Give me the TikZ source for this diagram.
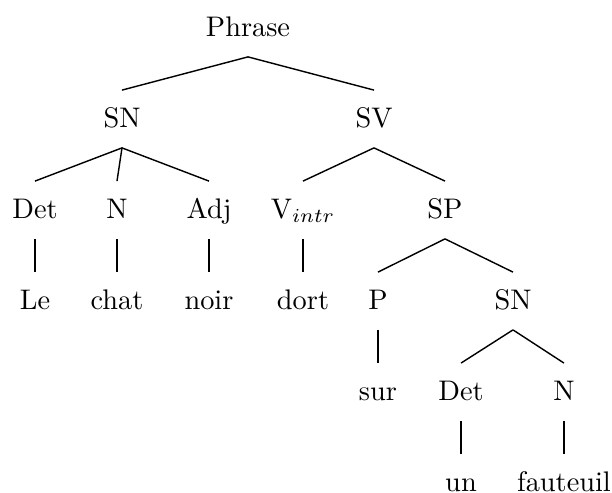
\documentclass[tikz,border=0pt]{standalone}
\tikzset{
    word/.style={inner sep=0pt, text height=1.6ex, text depth=.25ex,
                 minimum height=20pt},
    branch/.style={line width=0.5pt},
}
\begin{document}
\begin{tikzpicture}[x=0.0124cm, y=-0.0124cm]

    \useasboundingbox (0,0) rectangle (612,493);
    \node[word] (phrase) at (248,28) {Phrase};
    \node[word] (sn) at (122,119) {SN};
    \node[word] (sv) at (374,119) {SV};
    \node[word] (det) at (35,210) {Det};
    \node[word] (n) at (117,210) {N};
    \node[word] (adj) at (209,210) {Adj};
    \node[word] (vintr) at (303,210) {V$_{intr}$};
    \node[word] (sp) at (445,210) {SP};
    \node[word] (le) at (35,301) {Le};
    \node[word] (chat) at (117,301) {chat};
    \node[word] (noir) at (209,301) {noir};
    \node[word] (dort) at (303,301) {dort};
    \node[word] (p) at (378,301) {P};
    \node[word] (snsp) at (513,301) {SN};
    \node[word] (sur) at (378,392) {sur};
    \node[word] (detsp) at (461,392) {Det};
    \node[word] (nsp) at (564,392) {N};
    \node[word] (un) at (461,483) {un};
    \node[word] (fauteuil) at (564,483) {fauteuil};
    \draw[branch] (phrase.south) -- (sn.north);
    \draw[branch] (phrase.south) -- (sv.north);
    \draw[branch] (sn.south) -- (det.north);
    \draw[branch] (sn.south) -- (n.north);
    \draw[branch] (sn.south) -- (adj.north);
    \draw[branch] (sv.south) -- (vintr.north);
    \draw[branch] (sv.south) -- (sp.north);
    \draw[branch] (det.south) -- (le.north);
    \draw[branch] (n.south) -- (chat.north);
    \draw[branch] (adj.south) -- (noir.north);
    \draw[branch] (vintr.south) -- (dort.north);
    \draw[branch] (sp.south) -- (p.north);
    \draw[branch] (sp.south) -- (snsp.north);
    \draw[branch] (p.south) -- (sur.north);
    \draw[branch] (snsp.south) -- (detsp.north);
    \draw[branch] (snsp.south) -- (nsp.north);
    \draw[branch] (detsp.south) -- (un.north);
    \draw[branch] (nsp.south) -- (fauteuil.north);

\end{tikzpicture}
\end{document}
